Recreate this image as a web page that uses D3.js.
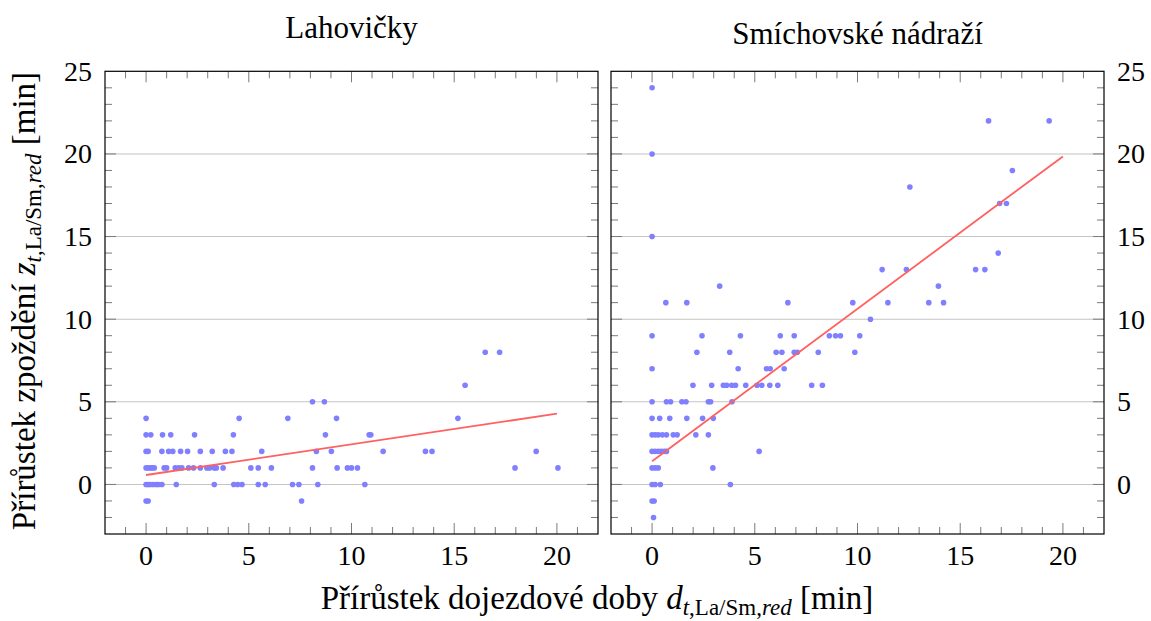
<!DOCTYPE html>
<html><head><meta charset="utf-8">
<script src="https://cdn.jsdelivr.net/npm/d3@7"></script>
<style>
html,body{margin:0;padding:0;background:#fff;}
</style></head>
<body><svg id="c" width="1151" height="621"></svg>
<script>
// ---- data ----
const titles = ["Lahovičky", "Smíchovské nádraží"];
const xTickLabels = [0, 5, 10, 15, 20];
const yTickLabels = [0, 5, 10, 15, 20, 25];

// Lahovičky: travel-time increase (x) and delay increase (y)
const leftDx = [
  0, 4.53, 6.9, 9.27, 15.18,
  0, 0.23, 0.8, 1.2, 2.36, 4.25, 8.73, 10.86, 10.94,
  0, 0.1, 0.77, 1.1, 1.3, 1.68, 2.02, 2.64, 3.22, 3.86, 4.18, 5.63, 8.29, 9.02, 11.54, 13.6, 13.92, 18.99,
  0, 0.1, 0.2, 0.3, 0.4, 0.88, 1.0, 1.42, 1.58, 1.74, 2.07, 2.31, 2.64, 2.96, 3.09, 3.32, 3.42, 3.75, 5.1, 5.46, 6.1, 8.1, 9.3, 9.8, 10.0, 10.29, 17.96, 20.05,
  0, 0.1, 0.2, 0.35, 0.5, 0.6, 0.77, 1.47, 3.32, 4.27, 4.46, 4.67, 5.46, 5.8, 7.13, 7.44, 8.36, 10.65,
  0, 0.1, 7.57,
  8.1, 8.68,
  15.53,
  16.51, 17.21
];
const leftDz = [
  4, 4, 4, 4, 4,
  3, 3, 3, 3, 3, 3, 3, 3, 3,
  2, 2, 2, 2, 2, 2, 2, 2, 2, 2, 2, 2, 2, 2, 2, 2, 2, 2,
  1, 1, 1, 1, 1, 1, 1, 1, 1, 1, 1, 1, 1, 1, 1, 1, 1, 1, 1, 1, 1, 1, 1, 1, 1, 1, 1, 1,
  0, 0, 0, 0, 0, 0, 0, 0, 0, 0, 0, 0, 0, 0, 0, 0, 0, 0,
  -1, -1, -1,
  5, 5,
  6,
  8, 8
];
// Smíchovské nádraží
const rightDx = [
  0,
  16.38, 19.33,
  0,
  17.54,
  12.55,
  16.92, 17.25,
  0,
  16.85,
  11.2, 12.38, 15.75, 16.2,
  3.29, 13.94,
  0.67, 1.69, 6.61, 9.77, 11.48, 13.47, 14.19,
  10.63,
  0, 2.43, 4.3, 6.24, 6.92, 8.63, 8.93, 9.17, 10.11,
  2.18, 3.78, 6.04, 6.32, 6.92, 7.07, 8.09, 9.87,
  0, 4.19, 5.57, 5.75, 6.43,
  1.99, 2.9, 3.47, 3.63, 3.88, 4.06, 4.56, 5.11, 5.34, 5.73, 6.12, 7.77, 8.29,
  0, 0.7, 0.9, 1.45, 1.65, 2.74, 2.85, 3.89,
  0, 0.37, 0.86, 1.69, 2.46, 2.98,
  0, 0.15, 0.3, 0.5, 0.7, 1.03, 1.22, 2.13, 2.74,
  0, 0.15, 0.3, 0.45, 0.6, 0.7, 5.21,
  0, 0.15, 0.3, 2.96,
  0, 0.15, 0.4, 3.81,
  0, 0.1,
  0.07
];
const rightDz = [
  24,
  22, 22,
  20,
  19,
  18,
  17, 17,
  15,
  14,
  13, 13, 13, 13,
  12, 12,
  11, 11, 11, 11, 11, 11, 11,
  10,
  9, 9, 9, 9, 9, 9, 9, 9, 9,
  8, 8, 8, 8, 8, 8, 8, 8,
  7, 7, 7, 7, 7,
  6, 6, 6, 6, 6, 6, 6, 6, 6, 6, 6, 6, 6,
  5, 5, 5, 5, 5, 5, 5, 5,
  4, 4, 4, 4, 4, 4,
  3, 3, 3, 3, 3, 3, 3, 3, 3,
  2, 2, 2, 2, 2, 2, 2,
  1, 1, 1, 1,
  0, 0, 0, 0,
  -1, -1,
  -2
];
// regression lines: [x0, y0, x1, y1]
const leftFit = [0, 0.57, 20, 4.28];
const rightFit = [0, 1.4, 20, 19.85];

// ---- drawing ----
const FONT = "Liberation Serif";
const svg = d3.select("#c");
svg.append("rect").attr("width",1151).attr("height",621).attr("fill","#fff");

const xDomain = [-2, 22], yDomain = [-3, 25];
const y = d3.scaleLinear().domain(yDomain).range([534, 71.3]);
const panels = [
  {x: d3.scaleLinear().domain(xDomain).range([105, 598]), dx: leftDx, dz: leftDz, fit: leftFit, title: titles[0], side: "left", ty: 38},
  {x: d3.scaleLinear().domain(xDomain).range([611, 1104]), dx: rightDx, dz: rightDz, fit: rightFit, title: titles[1], side: "right", ty: 44}
];

const minorX = d3.range(-1, 22), minorY = d3.range(-2, 25);
const tickCol = "#7a7a7a";

panels.forEach(p => {
  const g = svg.append("g");
  const [x0, x1] = p.x.range();
  const [yb, yt] = y.range();
  g.selectAll(".grid").data(yTickLabels.filter(v => v < 25)).join("line")
    .attr("x1", x0).attr("x2", x1).attr("y1", d => y(d)).attr("y2", d => y(d))
    .attr("stroke", "#c4c4c4").attr("stroke-width", 1.1);
  minorX.forEach(v => {
    const major = xTickLabels.includes(v);
    const L = major ? 11 : 7;
    const xx = p.x(v);
    g.append("line").attr("x1", xx).attr("x2", xx).attr("y1", yb).attr("y2", yb - L).attr("stroke", tickCol).attr("stroke-width", 1);
    g.append("line").attr("x1", xx).attr("x2", xx).attr("y1", yt).attr("y2", yt + L).attr("stroke", tickCol).attr("stroke-width", 1);
  });
  minorY.forEach(v => {
    const major = yTickLabels.includes(v);
    const L = major ? 11 : 7;
    const yy = y(v);
    g.append("line").attr("x1", x0).attr("x2", x0 + L).attr("y1", yy).attr("y2", yy).attr("stroke", tickCol).attr("stroke-width", 1);
    g.append("line").attr("x1", x1).attr("x2", x1 - L).attr("y1", yy).attr("y2", yy).attr("stroke", tickCol).attr("stroke-width", 1);
  });
  g.append("rect").attr("x", x0).attr("y", yt).attr("width", x1 - x0).attr("height", yb - yt)
    .attr("fill", "none").attr("stroke", "#000").attr("stroke-width", 1.2);
  const pts = p.dx.map((d, i) => [d, p.dz[i]]);
  g.selectAll(".pt").data(pts).join("circle")
    .attr("cx", d => p.x(d[0])).attr("cy", d => y(d[1])).attr("r", 2.8)
    .attr("fill", "#7f7fff");
  g.append("line").attr("x1", p.x(p.fit[0])).attr("y1", y(p.fit[1]))
    .attr("x2", p.x(p.fit[2])).attr("y2", y(p.fit[3]))
    .attr("stroke", "#ff6060").attr("stroke-width", 1.8);
  g.selectAll(".xl").data(xTickLabels).join("text")
    .attr("font-family", FONT)
    .attr("x", d => p.x(d)).attr("y", 565).attr("text-anchor", "middle")
    .attr("font-size", 28).text(d => d);
  g.selectAll(".yl").data(yTickLabels).join("text")
    .attr("font-family", FONT)
    .attr("x", p.side === "left" ? x0 - 13 : x1 + 13).attr("y", d => y(d) + 9.5)
    .attr("text-anchor", p.side === "left" ? "end" : "start")
    .attr("font-size", 28).text(d => d);
  g.append("text").attr("font-family", FONT)
    .attr("x", (x0 + x1) / 2).attr("y", p.ty).attr("text-anchor", "middle")
    .attr("font-size", 31).text(p.title);
});

function axisLabel(t, pre, sym) {
  t.append("tspan").text(pre);
  t.append("tspan").attr("font-style", "italic").text(sym);
  t.append("tspan").attr("font-size", 23).attr("dy", 6).attr("font-style", "italic").text("t");
  t.append("tspan").attr("font-size", 23).text(",La/Sm,");
  t.append("tspan").attr("font-size", 23).attr("font-style", "italic").text("red");
  t.append("tspan").attr("dy", -6).text(" [min]");
}
const xl = svg.append("text").attr("font-family", FONT)
  .attr("x", 597).attr("y", 609).attr("text-anchor", "middle").attr("font-size", 33);
axisLabel(xl, "Přírůstek dojezdové doby ", "d");
const yl = svg.append("text").attr("font-family", FONT)
  .attr("transform", "translate(35,301) rotate(-90)").attr("text-anchor", "middle").attr("font-size", 33);
axisLabel(yl, "Přírůstek zpoždění ", "z");
</script></body></html>
